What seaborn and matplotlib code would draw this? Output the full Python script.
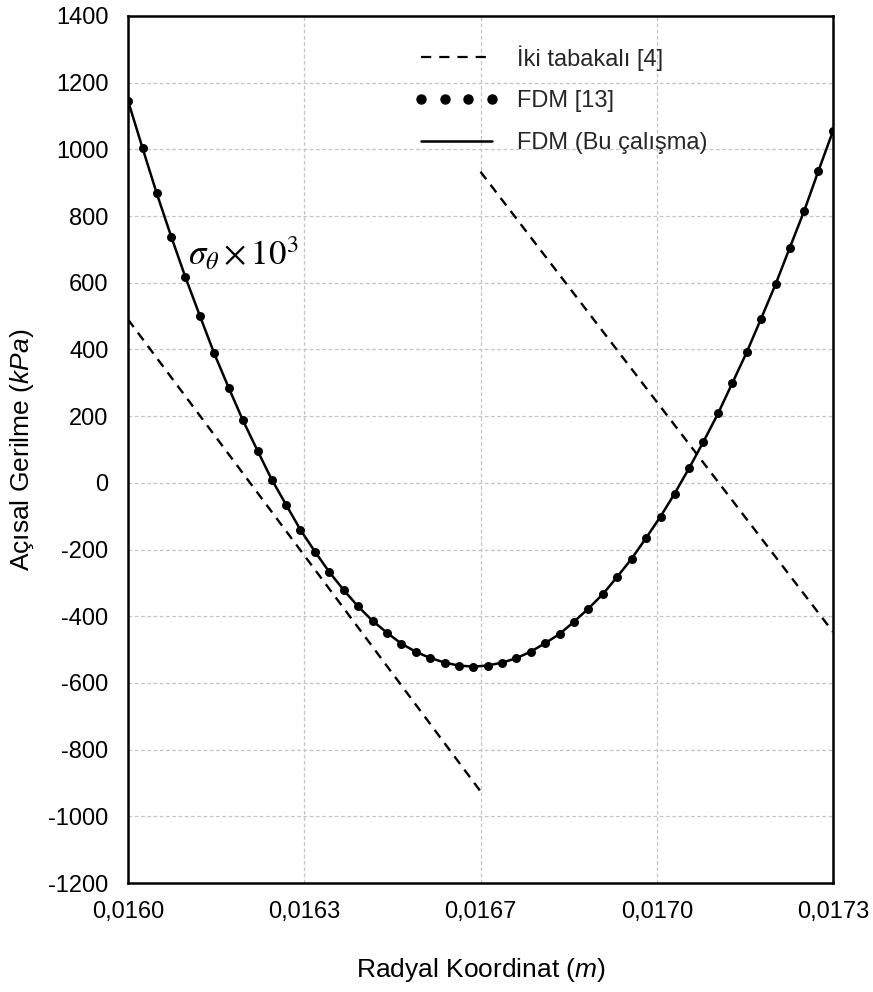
import numpy as np
import pandas as pd
import matplotlib
matplotlib.use("Agg")
import matplotlib.pyplot as plt
from matplotlib.lines import Line2D
from matplotlib.ticker import FixedLocator, FixedFormatter, MultipleLocator
import seaborn as sns

# ---------------- data ----------------
r_fdm = [0.016000, 0.016027, 0.016053, 0.016080, 0.016106, 0.016133, 0.016159, 0.016186,
         0.016212, 0.016239, 0.016265, 0.016292, 0.016318, 0.016345, 0.016371, 0.016398,
         0.016424, 0.016451, 0.016478, 0.016504, 0.016531, 0.016557, 0.016584, 0.016610,
         0.016637, 0.016663, 0.016690, 0.016716, 0.016743, 0.016769, 0.016796, 0.016822,
         0.016849, 0.016876, 0.016902, 0.016929, 0.016955, 0.016982, 0.017008, 0.017035,
         0.017061, 0.017088, 0.017114, 0.017141, 0.017167, 0.017194, 0.017220, 0.017247,
         0.017273, 0.017300]
sigma_fdm = [1146, 1003, 868, 737, 616, 499, 388, 284, 187, 96,
             10, -67, -141, -207, -267, -322, -370, -414, -450, -482,
             -507, -525, -539, -548, -551, -548, -539, -526, -506, -481,
             -453, -417, -377, -333, -282, -227, -166, -101, -32, 45,
             123, 208, 298, 392, 491, 595, 704, 816, 935, 1055]

two_layer_inner_r = [0.016000, 0.016650]
two_layer_inner_s = [490, -925]
two_layer_outer_r = [0.016650, 0.017300]
two_layer_outer_s = [933, -447]

x_ticks = [0.016000, 0.016325, 0.016650, 0.016975, 0.017300]
x_tick_labels = ["0,0160", "0,0163", "0,0167", "0,0170", "0,0173"]
y_ticks = [-1200, -1000, -800, -600, -400, -200, 0, 200, 400, 600, 800, 1000, 1200, 1400]

labels = ["İki tabakalı [4]", "FDM [13]", "FDM (Bu çalışma)"]

# ---------------- style ----------------
sns.set_theme(style="white")
plt.rcParams["font.family"] = ["Liberation Sans", "DejaVu Sans"]
plt.rcParams["axes.unicode_minus"] = False
plt.rcParams["mathtext.fontset"] = "custom"
plt.rcParams["mathtext.rm"] = "Liberation Sans"
plt.rcParams["mathtext.it"] = "Liberation Sans:italic"
plt.rcParams["mathtext.bf"] = "Liberation Sans:bold"

fig = plt.figure(figsize=(8.73, 9.92), dpi=100)
ax = fig.add_axes([128 / 873, 1 - 883 / 992, 705 / 873, 867 / 992])

df_fdm = pd.DataFrame({"r": r_fdm, "s": sigma_fdm})
df_two = pd.DataFrame({
    "r": two_layer_inner_r + two_layer_outer_r,
    "s": two_layer_inner_s + two_layer_outer_s,
    "seg": ["inner"] * len(two_layer_inner_r) + ["outer"] * len(two_layer_outer_r),
})

sns.lineplot(data=df_two, x="r", y="s", units="seg", estimator=None, ax=ax,
             color="black", lw=1.7, dashes=False, linestyle=(0, (4, 3)), legend=False)
sns.lineplot(data=df_fdm, x="r", y="s", ax=ax, color="black", lw=1.8,
             estimator=None, legend=False)
sns.scatterplot(data=df_fdm, x="r", y="s", ax=ax, color="black", s=42,
                edgecolor="black", linewidth=0, legend=False, zorder=3)

# ---------------- axes ----------------
ax.set_xlim(0.0160, 0.0173)
ax.set_ylim(-1200, 1400)
ax.xaxis.set_major_locator(FixedLocator(x_ticks))
ax.xaxis.set_major_formatter(FixedFormatter(x_tick_labels))
ax.xaxis.set_minor_locator(MultipleLocator(0.000325 / 4))
ax.yaxis.set_major_locator(FixedLocator(y_ticks))
ax.yaxis.set_minor_locator(MultipleLocator(100))

ax.tick_params(axis="both", which="both", direction="in", length=5, width=1.3,
               color="black", labelsize=17, labelcolor="black")
ax.tick_params(axis="x", which="both", top=False, pad=13)
ax.tick_params(axis="y", which="both", right=False, pad=14)

ax.grid(True, which="major", color="#c4c4c4", linestyle=(0, (3, 2)), linewidth=0.9)
ax.set_axisbelow(True)
for side, sp in ax.spines.items():
    sp.set_color("black")
    sp.set_linewidth(1.8)

ax.set_xlabel(r"Radyal Koordinat ($\mathit{m}$)", fontsize=19, color="black", labelpad=24)
ax.set_ylabel(r"Açısal Gerilme ($\mathit{kPa}$)", fontsize=19, color="black", labelpad=9)

ax.text(0.01611, 688, r"$\sigma_{\theta}\times10^{3}$", fontsize=25,
        math_fontfamily="stix", ha="left", va="center", color="black")

handles = [
    Line2D([], [], color="black", lw=1.6, linestyle=(0, (4.6, 3.6))),
    Line2D([], [], color="black", lw=0, marker="o", markersize=6.5),
    Line2D([], [], color="black", lw=1.8),
]
ax.legend(handles, labels, loc="upper left", bbox_to_anchor=(0.4056, 0.9666),
          frameon=False, fontsize=17, handlelength=3.6, handletextpad=0.76,
          labelspacing=0.84, numpoints=4, borderpad=0, borderaxespad=0)

fig.savefig("out.png", dpi=100)
